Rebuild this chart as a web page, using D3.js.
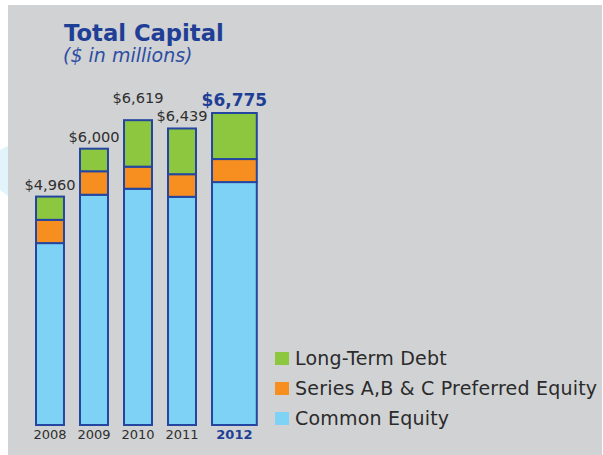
<!DOCTYPE html>
<html>
<head>
<meta charset="utf-8">
<script src="https://cdn.jsdelivr.net/npm/d3@7"></script>
<style>
  html, body { margin: 0; padding: 0; background: #fff; }
  svg { display: block; font-family: "DejaVu Sans", Verdana, sans-serif; }
</style>
</head>
<body>
<div id="capital-chart"></div>
<script>
// values, $ in millions
const years = ['2008', '2009', '2010', '2011', '2012']
const commonEquity = [3950, 5000, 5130, 4955, 5275]
const preferredEquity = [505, 510, 480, 491, 500]
const longTermDebt = [505, 490, 1009, 993, 1000]
const totals = [4960, 6000, 6619, 6439, 6775]
const seriesKeys = ['common', 'preferred', 'debt']
const seriesNames = ['Common Equity', 'Series A,B & C Preferred Equity', 'Long-Term Debt']
const highlightYear = '2012'

const width = 603
const height = 455
const colors = {common: '#7dd2f5', preferred: '#f68f1f', debt: '#8dc63f'}
const navy = '#1f3f96'
const outline = '#2446a0'

const rows = years.map((yr, i) => ({
  year: yr,
  common: commonEquity[i],
  preferred: preferredEquity[i],
  debt: longTermDebt[i],
  total: totals[i]
}))

const svg = d3.select('#capital-chart').append('svg')
  .attr('width', width)
  .attr('height', height)

// little swoosh peeking out on the left margin
svg.append('path')
  .attr('d', 'M0,150 Q5,147 8,146 L8,196 Q4,193 0,190 Z')
  .attr('fill', '#e1f3fb')

svg.append('rect')
  .attr('x', 8).attr('y', 5)
  .attr('width', width - 9).attr('height', height - 5)
  .attr('fill', '#d1d2d4')

svg.append('text')
  .attr('x', 64).attr('y', 41)
  .attr('fill', navy)
  .style('font-size', '22.7px')
  .style('font-weight', 'bold')
  .text('Total Capital')

svg.append('text')
  .attr('x', 63).attr('y', 62)
  .attr('fill', '#2d4ea3')
  .style('font-size', '19px')
  .style('font-style', 'italic')
  .text('($ in millions)')

const x = d3.scaleBand()
  .domain(years)
  .range([36, 240])
  .paddingInner(0.364)
  .paddingOuter(0)
  .align(0)

const y = d3.scaleLinear()
  .domain([0, d3.max(totals)])
  .range([425, 113])

const barW = d => d.data.year == highlightYear ? x.bandwidth() * 1.6 : x.bandwidth()
const midX = d => x(d.year) + (d.year == highlightYear ? x.bandwidth() * 0.8 : x.bandwidth() / 2)

const stacked = d3.stack().keys(seriesKeys)(rows)

const layers = svg.append('g').attr('class', 'bars')
  .selectAll('g')
  .data(stacked)
  .join('g')
  .attr('fill', d => colors[d.key])

layers.selectAll('rect')
  .data(d => d)
  .join('rect')
  .attr('x', d => x(d.data.year))
  .attr('y', d => y(d[1]))
  .attr('width', barW)
  .attr('height', d => y(d[0]) - y(d[1]))
  .attr('stroke', outline)
  .attr('stroke-width', 2)

// total labels
const fmt = d3.format('$,')
const labels = svg.append('g').attr('class', 'totals')
  .selectAll('text')
  .data(rows)
  .join('text')
  .attr('text-anchor', 'middle')
  .attr('x', midX)
  .attr('y', d => y(d.total) - 7)
  .attr('fill', d => d.year == highlightYear ? navy : '#2e2e2e')
  .style('font-size', d => d.year == highlightYear ? '17px' : '14.6px')
  .style('font-weight', d => d.year == highlightYear ? 'bold' : 'normal')
  .text(d => fmt(d.total))

// lift a label when it runs into its right-hand neighbour
const nodes = labels.nodes()
for (let i = nodes.length - 2; i >= 0; i--) {
  const a = nodes[i].getBBox()
  const b = nodes[i + 1].getBBox()
  const hit = a.x + a.width > b.x && a.y + a.height * 0.75 > b.y && b.y + b.height * 0.75 > a.y
  if (hit) {
    const nextY = +d3.select(nodes[i + 1]).attr('y')
    d3.select(nodes[i]).attr('y', nextY - 18)
  }
}

// year axis, just the labels
svg.append('g').attr('class', 'years')
  .selectAll('text')
  .data(rows)
  .join('text')
  .attr('text-anchor', 'middle')
  .attr('x', midX)
  .attr('y', 439)
  .attr('fill', d => d.year == highlightYear ? navy : '#2e2e2e')
  .style('font-size', '13px')
  .style('font-weight', d => d.year == highlightYear ? 'bold' : 'normal')
  .text(d => d.year)

// legend, debt on top
const legendKeys = seriesKeys.slice().reverse()
const legend = svg.append('g').attr('class', 'legend')
  .attr('transform', 'translate(275, 352)')
  .selectAll('g')
  .data(legendKeys)
  .join('g')
  .attr('transform', (d, i) => `translate(0, ${i * 30})`)

legend.append('rect')
  .attr('width', 14).attr('height', 13)
  .attr('fill', d => colors[d])

legend.append('text')
  .attr('x', 20).attr('y', 13)
  .attr('fill', '#2b2b2b')
  .style('font-size', '19px')
  .style('letter-spacing', '0.2px')
  .text(d => seriesNames[seriesKeys.indexOf(d)])
</script>
</body>
</html>
